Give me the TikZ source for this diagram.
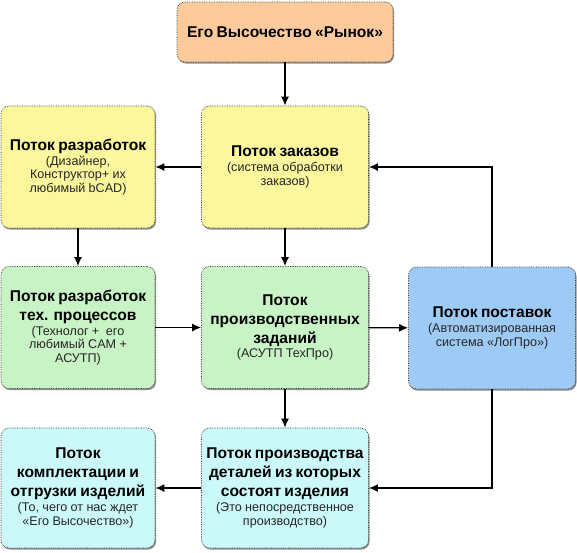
\documentclass[tikz,border=0pt]{standalone}
\usepackage{fontspec}
\setmainfont{Liberation Sans}
\usetikzlibrary{arrows.meta,shadows}
\definecolor{cOrange}{HTML}{FDCB9B}
\definecolor{cYellow}{HTML}{FBF79C}
\definecolor{cGreen}{HTML}{C8F3C4}
\definecolor{cBlue}{HTML}{9ECBF6}
\definecolor{cCyan}{HTML}{CBF9F9}
\definecolor{cBorder}{HTML}{333333}
\newcommand\boxtitle[1]{{\bfseries\fontsize{15.6}{19}\selectfont #1\par}}
\newcommand\boxsub[1]{{\fontsize{12.6}{13.8}\selectfont\color{black!85}\vspace{1pt}#1\par}}
\begin{document}
\begin{tikzpicture}[x=1pt,y=-1pt,
  flowbox/.style={draw=cBorder, densely dotted, line width=0.7pt, rounded corners=8pt,
    align=center, inner sep=3pt, anchor=center,
    drop shadow={shadow xshift=1pt, shadow yshift=-1.5pt, fill=black!45, opacity=1}},
  colA/.style={minimum width=154pt, text width=148pt},
  colB/.style={minimum width=167pt, text width=161pt},
  rowh/.style={minimum height=122pt},
  arr/.style={draw=black, line width=1.4pt, -{Latex[length=9pt,width=8pt]}}]
\useasboundingbox (0,0) rectangle (577,552);

\node[flowbox, fill=cOrange, minimum width=216pt, text width=210pt, minimum height=60pt] (top) at (285,32)
  {\boxtitle{Его Высочество «Рынок»}};

\node[flowbox, fill=cYellow, colA, rowh] (dev) at (78,167)
  {\boxtitle{Поток разработок}\boxsub{(Дизайнер,\\Конструктор+ их\\любимый bCAD)}};
\node[flowbox, fill=cYellow, colB, rowh] (orders) at (285,167)
  {\boxtitle{Поток заказов}\boxsub{(система обработки\\заказов)}};

\node[flowbox, fill=cGreen, colA, rowh] (tech) at (78,327.5)
  {\boxtitle{Поток разработок\\тех. процессов}\boxsub{(Технолог +\ \ его\\любимый CAM +\\АСУТП)}};
\node[flowbox, fill=cGreen, colB, rowh] (tasks) at (285,327.5)
  {\boxtitle{Поток\\производственных\\заданий}\boxsub{(АСУТП ТехПро)}};
\node[flowbox, fill=cBlue, colB, rowh] (supply) at (492,328)
  {\boxtitle{Поток поставок}\boxsub{(Автоматизированная\\система «ЛогПро»)}};

\node[flowbox, fill=cCyan, colA, minimum height=120pt] (ship) at (78,488)
  {\boxtitle{Поток\\комплектации и\\отгрузки изделий}\boxsub{(То, чего от нас ждет\\«Его Высочество»)}};
\node[flowbox, fill=cCyan, colB, minimum height=120pt] (parts) at (285,488)
  {\boxtitle{Поток производства\\деталей из которых\\состоят изделия}\boxsub{(Это непосредственное\\производство)}};

\draw[arr] (top) -- (orders);
\draw[arr] (orders) -- (dev);
\draw[arr] (supply.north) |- (orders.east);
\draw[arr] (dev) -- (tech);
\draw[arr] (orders) -- (tasks);
\draw[arr] (tech) -- (tasks);
\draw[arr] (tasks) -- (supply);
\draw[arr] (tasks) -- (parts);
\draw[arr] (supply.south) |- (parts.east);
\draw[arr] (parts) -- (ship);
\end{tikzpicture}
\end{document}
